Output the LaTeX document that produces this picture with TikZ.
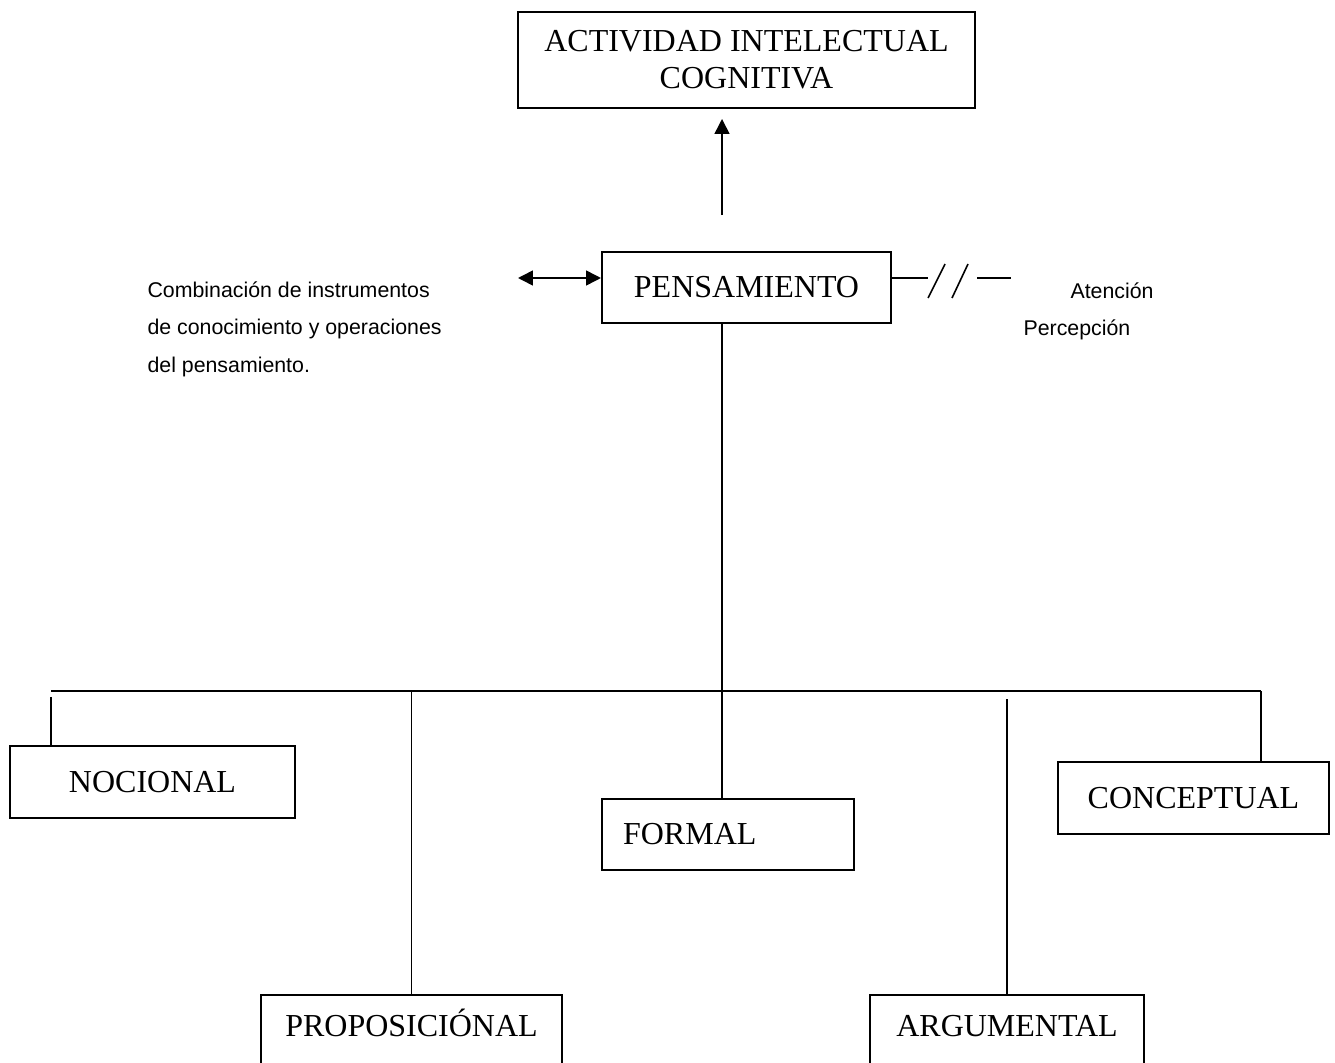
\documentclass[tikz,border=0pt]{standalone}
\usepackage{fontspec}
\setmainfont{Liberation Serif}
\newfontfamily\armfont{Liberation Sans}
\usetikzlibrary{arrows.meta}

\begin{document}
\begin{tikzpicture}[x=0.375pt,y=-0.375pt,
    box/.style={draw, line width=0.75pt, inner sep=0pt, font=\fontsize{12}{13.8}\selectfont},
    note/.style={inner sep=0pt, font=\armfont\fontsize{8}{13.9}\selectfont},
    link/.style={line width=0.6pt},
    tip/.style={-{Triangle[length=5.6pt,width=5.6pt]}}]
    % Page is 1335 x 1062 units, y runs downward.
    \useasboundingbox (0,0) rectangle (1335,1062);

    % Boxes
    \node[box, minimum width=171.4pt, minimum height=36pt, align=center] (act) at (746.5,60)
      {ACTIVIDAD INTELECTUAL\\COGNITIVA};
    \node[box, minimum width=108.4pt, minimum height=26.6pt] (pens) at (746.5,287.5) {PENSAMIENTO};
    \node[box, minimum width=106.9pt, minimum height=27pt] (noc) at (152.5,782) {NOCIONAL};
    \node[box, text width=78.7pt, inner xsep=7.9pt, minimum height=26.6pt, align=left] (formal)
      at (728,834.5) {FORMAL};
    \node[box, minimum width=101.6pt, minimum height=27pt] (conc) at (1193.5,798) {CONCEPTUAL};
    \node[box, minimum width=112.9pt, text height=15.4pt, text depth=17pt, anchor=north] (prop)
      at (411.5,994) {PROPOSICIÓNAL};
    \node[box, minimum width=102.8pt, text height=15.4pt, text depth=17pt, anchor=north] (arg)
      at (1007,994) {ARGUMENTAL};

    % Side notes (base of the last line)
    \node[note, anchor=base west, align=left] (combo) at (147,372)
      {Combinación de instrumentos\\de conocimiento y operaciones\\del pensamiento.};
    \node[note, anchor=base west] (aten) at (1070,298) {Atención};
    \node[note, anchor=base west] (perc) at (1023,335) {Percepción};

    % Connectors
    \coordinate (trunk) at (722,691);
    \coordinate (barL) at (51,691);
    \coordinate (barR) at (1261,691);
    \coordinate (left) at (518,278);
    \coordinate (cutA) at (928,278);
    \coordinate (cutB) at (977,278);
    \coordinate (right) at (1011,278);

    \draw[link, tip, shorten <=13.5pt, shorten >=3.75pt] (pens.north -| trunk) -- (act.south -| trunk);
    \draw[link, {Triangle[length=5.6pt,width=5.6pt]}-{Triangle[length=5.6pt,width=5.6pt]}]
      (left) -- (left -| pens.west);
    \draw[link] (left -| pens.east) -- (cutA);
    \draw[link] (928,298) -- (945,264);
    \draw[link] (952,298) -- (968,264);
    \draw[link] (cutB) -- (right);

    \draw[line width=0.75pt] (pens.south -| trunk) -- (formal.north -| trunk);
    \draw[line width=0.9pt] (barL) -- (barR);
    \draw[link, shorten <=2.2pt] (barL) -- (barL |- noc.north);
    \draw[link] (prop.north |- barL) -- (prop.north);
    \draw[link, shorten <=3pt] (arg.north |- barL) -- (arg.north);
    \draw[link] (barR) -- (barR |- conc.north);
\end{tikzpicture}
\end{document}
